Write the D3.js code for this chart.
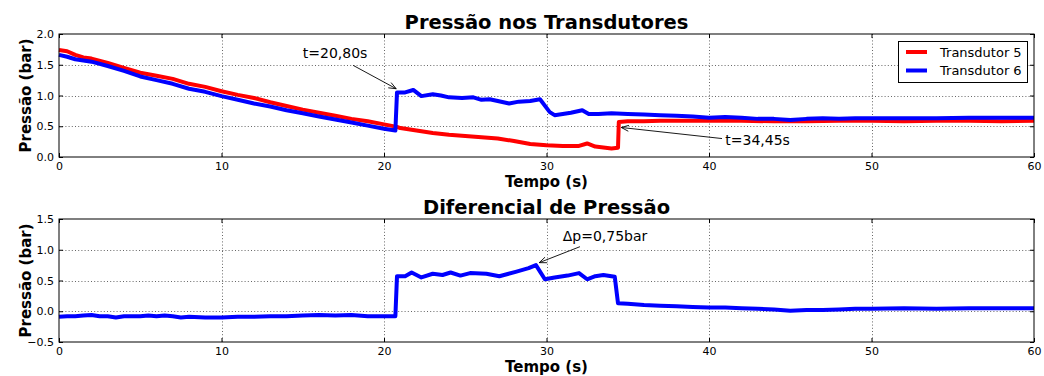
<!DOCTYPE html>
<html>
<head>
<meta charset="utf-8">
<script src="https://cdn.jsdelivr.net/npm/d3@7/dist/d3.min.js"></script>
<style>
  html, body { margin: 0; padding: 0; background: #fff; }
  svg { display: block; font-family: "DejaVu Sans", sans-serif; }
</style>
</head>
<body>
<svg id="chart" width="1044" height="376"></svg>
<script>
// Transdutor 5 (bar) over time (s)
const t5 = [0, 0.5, 1, 1.5, 2, 3, 4, 5, 6, 7, 8, 9, 10, 11, 12, 13, 14, 15, 16, 17, 18, 19, 20,
  20.8, 21, 22, 23, 24, 25, 26, 27, 28, 29, 30, 31, 32, 32.5, 33, 34, 34.4, 34.45, 35, 36, 37, 38,
  39, 40, 42, 44, 46, 48, 50, 52, 54, 56, 58, 60];
const p5 = [1.74, 1.72, 1.66, 1.62, 1.60, 1.53, 1.45, 1.37, 1.32, 1.27, 1.19, 1.14, 1.07, 1.01,
  0.96, 0.89, 0.83, 0.77, 0.72, 0.67, 0.62, 0.58, 0.53, 0.49, 0.47, 0.43, 0.39, 0.36, 0.34, 0.32,
  0.30, 0.26, 0.21, 0.19, 0.18, 0.18, 0.22, 0.17, 0.14, 0.15, 0.57, 0.58, 0.58, 0.59, 0.59, 0.59,
  0.59, 0.59, 0.58, 0.58, 0.59, 0.59, 0.58, 0.59, 0.59, 0.58, 0.59];

// Transdutor 6 (bar) over time (s)
const t6 = [0, 0.5, 1, 1.5, 2, 3, 4, 5, 6, 7, 8, 9, 10, 11, 12, 13, 14, 15, 16, 17, 18, 19, 20,
  20.7, 20.8, 21.3, 21.8, 22.3, 23, 23.5, 24, 24.8, 25.5, 26, 26.5, 27, 27.7, 28.3, 29, 29.6,
  30.2, 30.5, 31, 31.5, 32.2, 32.6, 33.2, 34, 35, 36, 37, 38, 39, 40, 41, 42, 43, 44, 45, 46, 47,
  48, 49, 50, 52, 54, 56, 58, 60];
const p6 = [1.66, 1.63, 1.59, 1.57, 1.55, 1.48, 1.40, 1.31, 1.25, 1.19, 1.11, 1.06, 0.99, 0.93,
  0.87, 0.82, 0.76, 0.71, 0.66, 0.61, 0.56, 0.51, 0.46, 0.43, 1.05, 1.05, 1.09, 0.99, 1.02, 1.00,
  0.97, 0.96, 0.97, 0.93, 0.94, 0.91, 0.87, 0.90, 0.91, 0.94, 0.73, 0.68, 0.70, 0.72, 0.76, 0.70,
  0.70, 0.71, 0.70, 0.69, 0.68, 0.67, 0.66, 0.64, 0.65, 0.64, 0.62, 0.62, 0.60, 0.62, 0.63, 0.62,
  0.63, 0.63, 0.63, 0.63, 0.64, 0.64, 0.64];

// Pressure differential (bar) over time (s)
const tDiff = [0, 0.5, 1, 1.5, 2, 2.5, 3, 3.5, 4, 5, 5.5, 6, 6.5, 7, 7.5, 8, 9, 10, 11, 12, 13,
  14, 15, 16, 17, 18, 19, 20, 20.7, 20.8, 21.3, 21.7, 22.3, 23, 23.6, 24.1, 24.7, 25.3, 26.3,
  27.1, 28.1, 28.9, 29.35, 29.9, 30.5, 31.3, 32, 32.5, 33, 33.5, 34.2, 34.4, 35, 36, 37, 38, 39,
  40, 41, 42, 43, 44, 45, 46, 47, 48, 49, 50, 52, 54, 56, 58, 60];
const dp = [-0.09, -0.08, -0.08, -0.07, -0.06, -0.08, -0.08, -0.10, -0.08, -0.08, -0.07, -0.08,
  -0.07, -0.08, -0.10, -0.09, -0.10, -0.10, -0.09, -0.09, -0.08, -0.08, -0.07, -0.06, -0.07,
  -0.06, -0.08, -0.08, -0.08, 0.57, 0.57, 0.63, 0.55, 0.61, 0.59, 0.63, 0.58, 0.62, 0.61, 0.57,
  0.64, 0.70, 0.75, 0.52, 0.55, 0.58, 0.62, 0.52, 0.57, 0.59, 0.56, 0.13, 0.12, 0.10, 0.09, 0.08,
  0.07, 0.06, 0.06, 0.05, 0.04, 0.03, 0.01, 0.02, 0.02, 0.03, 0.04, 0.04, 0.05, 0.04, 0.05, 0.05,
  0.05];

const xTicks = [0, 10, 20, 30, 40, 50, 60];
const yTicksTop = [0, 0.5, 1.0, 1.5, 2.0];
const yTicksBottom = [-0.5, 0, 0.5, 1.0, 1.5];

const seriesNames = ["Transdutor 5", "Transdutor 6"];
const seriesColors = ["#ff0000", "#0000ff"];

// annotation texts with the point they mark and where the text sits (data units)
const notesTop = [
  { text: "t=20,80s", xy: [20.75, 1.11], from: [18.1, 1.49], at: [15.0, 1.61] },
  { text: "t=34,45s", xy: [34.6, 0.48], from: [40.8, 0.30], at: [41.0, 0.19] }
];
const notesBottom = [
  { text: "\u0394p=0,75bar", xy: [29.55, 0.79], from: [32.06, 1.05], at: [31.0, 1.15] }
];

const svg = d3.select("#chart");
const left = 59, right = 1034;
const x = d3.scaleLinear().domain([0, 60]).range([left, right]);

function panel(cfg) {
  const y = d3.scaleLinear().domain(cfg.yDomain).range([cfg.bottom, cfg.top]);
  const g = svg.append("g");

  // dotted grid
  const grid = g.append("g").attr("stroke", "#000").attr("stroke-width", 0.8)
    .attr("stroke-dasharray", "1,2.2").attr("opacity", 0.75);
  grid.selectAll("line.v").data(xTicks.slice(1, -1)).join("line")
    .attr("x1", d => Math.round(x(d)) + 0.5).attr("x2", d => Math.round(x(d)) + 0.5)
    .attr("y1", cfg.top).attr("y2", cfg.bottom);
  grid.selectAll("line.h").data(cfg.yTicks.slice(1, -1)).join("line")
    .attr("y1", d => Math.round(y(d)) + 0.5).attr("y2", d => Math.round(y(d)) + 0.5)
    .attr("x1", left).attr("x2", right);

  // data lines
  const line = d3.line().x(d => x(d[0])).y(d => y(d[1]));
  cfg.series.forEach(s => {
    g.append("path")
      .datum(s.t.map((tv, i) => [tv, s.v[i]]))
      .attr("fill", "none").attr("stroke", s.color).attr("stroke-width", 4)
      .attr("stroke-linejoin", "round").attr("stroke-linecap", "butt")
      .attr("d", line);
  });

  // axes with inward ticks on all four sides
  const fmt = d3.format(".1f");
  const axB = g.append("g").attr("transform", `translate(0,${cfg.bottom})`)
    .call(d3.axisBottom(x).tickValues(xTicks).tickSize(-4).tickPadding(5).tickFormat(d3.format("d")));
  const axT = g.append("g").attr("transform", `translate(0,${cfg.top})`)
    .call(d3.axisTop(x).tickValues(xTicks).tickSize(-4).tickFormat(""));
  const axL = g.append("g").attr("transform", `translate(${left},0)`)
    .call(d3.axisLeft(y).tickValues(cfg.yTicks).tickSize(-4).tickPadding(5).tickFormat(fmt));
  const axR = g.append("g").attr("transform", `translate(${right},0)`)
    .call(d3.axisRight(y).tickValues(cfg.yTicks).tickSize(-4).tickFormat(""));
  [axB, axT, axL, axR].forEach(a => {
    a.select(".domain").remove();
    a.selectAll(".tick line").attr("stroke", "#000");
    a.selectAll(".tick text").attr("font-size", 11).attr("fill", "#000")
      .attr("font-family", "DejaVu Sans");
  });

  // frame
  g.append("rect").attr("x", left).attr("y", cfg.top)
    .attr("width", right - left).attr("height", cfg.bottom - cfg.top)
    .attr("fill", "none").attr("stroke", "#000").attr("stroke-width", 1);

  // titles and labels
  g.append("text").attr("x", (left + right) / 2).attr("y", cfg.top - 5.5)
    .attr("text-anchor", "middle").attr("font-size", 19.5).attr("font-weight", "bold")
    .text(cfg.title);
  g.append("text").attr("x", (left + right) / 2).attr("y", cfg.bottom + 30)
    .attr("text-anchor", "middle").attr("font-size", 15).attr("font-weight", "bold")
    .text("Tempo (s)");
  g.append("text")
    .attr("transform", `translate(31,${(cfg.top + cfg.bottom) / 2}) rotate(-90)`)
    .attr("text-anchor", "middle").attr("font-size", 15).attr("font-weight", "bold")
    .text("Pressão (bar)");

  // annotations with open arrowheads
  cfg.notes.forEach(n => {
    const x0 = x(n.from[0]), y0 = y(n.from[1]);
    const x1 = x(n.xy[0]), y1 = y(n.xy[1]);
    const ang = Math.atan2(y1 - y0, x1 - x0);
    const hl = 8, ha = 0.38;
    g.append("line").attr("x1", x0).attr("y1", y0).attr("x2", x1).attr("y2", y1)
      .attr("stroke", "#000").attr("stroke-width", 0.9);
    g.append("path")
      .attr("d", `M${x1 - hl * Math.cos(ang - ha)},${y1 - hl * Math.sin(ang - ha)}L${x1},${y1}L${x1 - hl * Math.cos(ang + ha)},${y1 - hl * Math.sin(ang + ha)}`)
      .attr("fill", "none").attr("stroke", "#000").attr("stroke-width", 0.9);
    g.append("text").attr("x", x(n.at[0])).attr("y", y(n.at[1]))
      .attr("font-size", 14).text(n.text);
  });
  return y;
}

panel({
  top: 34, bottom: 157, yDomain: [0, 2], yTicks: yTicksTop,
  title: "Pressão nos Transdutores",
  series: [
    { t: t5, v: p5, color: seriesColors[0] },
    { t: t6, v: p6, color: seriesColors[1] }
  ],
  notes: notesTop
});

panel({
  top: 219, bottom: 342, yDomain: [-0.5, 1.5], yTicks: yTicksBottom,
  title: "Diferencial de Pressão",
  series: [{ t: tDiff, v: dp, color: seriesColors[1] }],
  notes: notesBottom
});

// legend for the top panel
const lg = svg.append("g").attr("transform", "translate(898,41)");
lg.append("rect").attr("x", 0.5).attr("y", 0.5).attr("width", 129).attr("height", 41)
  .attr("fill", "#fff").attr("stroke", "#000").attr("stroke-width", 1);
seriesNames.forEach((name, i) => {
  const yy = 11 + i * 18.5;
  lg.append("line").attr("x1", 8).attr("x2", 29).attr("y1", yy).attr("y2", yy)
    .attr("stroke", seriesColors[i]).attr("stroke-width", 4);
  lg.append("text").attr("x", 42).attr("y", yy + 4.5).attr("font-size", 13).text(name);
});
</script>
</body>
</html>
